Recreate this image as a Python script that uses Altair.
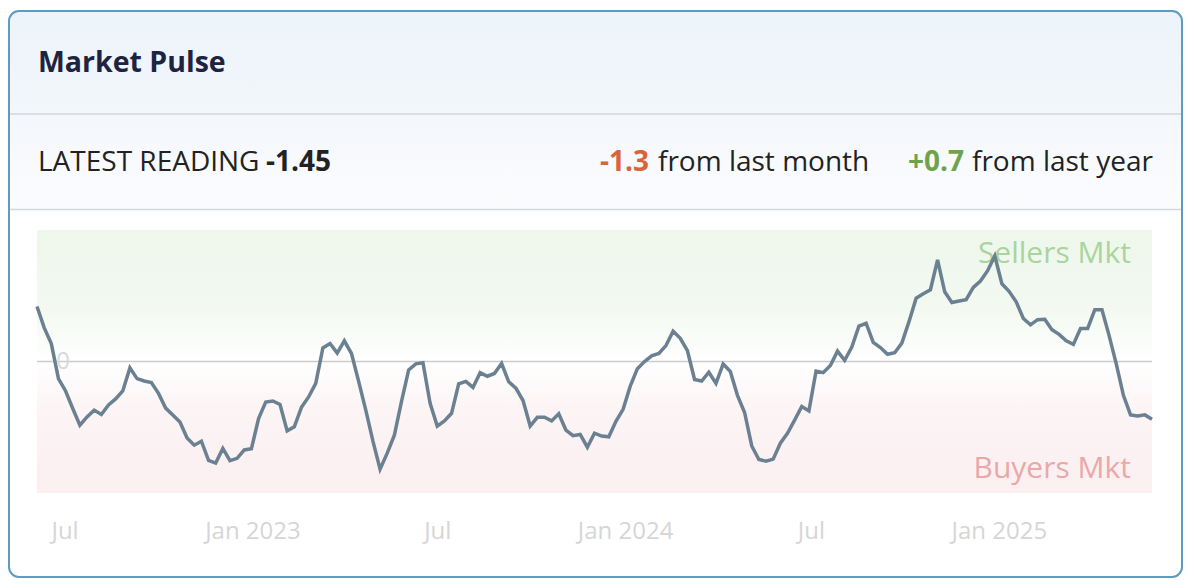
import altair as alt
import pandas as pd

# ---------------- text content ----------------
TITLE = "Market Pulse"
LATEST_LABEL = "LATEST READING"
LATEST_VALUE = "-1.45"
MONTH_CHANGE = "-1.3"
MONTH_TEXT = "from last month"
YEAR_CHANGE = "+0.7"
YEAR_TEXT = "from last year"

ZONE_LABELS = ["Sellers Mkt", "Buyers Mkt"]
ZONE_LEVELS = [2.7, -2.7]
ZONE_COLORS = ["#aad49e", "#eaa8a9"]
Y_DOMAIN = [-3.3, 3.3]
Y_TICKS = [0]
X_TICKS = ["2022-07-01", "2023-01-01", "2023-07-01", "2024-01-01", "2024-07-01", "2025-01-01"]

# weekly readings, Jun 2022 -> May 2025
pulse = [
    1.38, 0.85, 0.45, -0.43, -0.74, -1.18, -1.60, -1.39, -1.22, -1.33,
    -1.09, -0.94, -0.74, -0.16, -0.43, -0.49, -0.53, -0.80, -1.17, -1.34,
    -1.52, -1.92, -2.10, -2.00, -2.48, -2.55, -2.18, -2.49, -2.43, -2.22,
    -2.19, -1.43, -1.02, -0.99, -1.08, -1.74, -1.64, -1.15, -0.89, -0.55,
    0.34, 0.45, 0.21, 0.52, 0.20, -0.50, -1.22, -2.00, -2.70, -2.30,
    -1.85, -1.00, -0.21, -0.06, -0.03, -1.05, -1.62, -1.49, -1.30, -0.56,
    -0.50, -0.65, -0.28, -0.37, -0.30, -0.05, -0.51, -0.67, -0.98, -1.62,
    -1.40, -1.40, -1.49, -1.31, -1.72, -1.86, -1.83, -2.15, -1.80, -1.87,
    -1.89, -1.50, -1.20, -0.62, -0.18, 0.00, 0.14, 0.20, 0.40, 0.76,
    0.58, 0.27, -0.45, -0.49, -0.27, -0.55, -0.06, -0.25, -0.85, -1.28,
    -2.12, -2.46, -2.50, -2.45, -2.05, -1.80, -1.47, -1.13, -1.24, -0.24,
    -0.28, -0.10, 0.26, 0.03, 0.36, 0.89, 0.96, 0.48, 0.35, 0.18,
    0.22, 0.46, 1.00, 1.59, 1.70, 1.80, 2.55, 1.75, 1.48, 1.52,
    1.55, 1.86, 2.02, 2.28, 2.65, 1.95, 1.76, 1.50, 1.08, 0.92,
    1.05, 1.06, 0.80, 0.68, 0.52, 0.43, 0.83, 0.83, 1.30, 1.30,
    0.65, -0.06, -0.85, -1.34, -1.37, -1.34, -1.45,
]
dates = pd.date_range("2022-06-04", periods=len(pulse), freq="7D").strftime("%Y-%m-%d").tolist()

FONT = "Open Sans"
W, H = 1176, 568

line_df = pd.DataFrame({"date": dates, "pulse": pulse})
band_df = pd.DataFrame({"start": [dates[0]], "end": [dates[-1]],
                        "top": [Y_DOMAIN[1]], "bottom": [Y_DOMAIN[0]]})
zero_df = pd.DataFrame({"start": [dates[0]], "end": [dates[-1]], "y": Y_TICKS})
zone_df = pd.DataFrame({"date": [dates[-1]] * 2, "level": ZONE_LEVELS, "label": ZONE_LABELS})
one = pd.DataFrame({"k": [0]})

xscale = alt.Scale(type="utc", range=[29, 1144], nice=False)
yscale = alt.Scale(domain=Y_DOMAIN, range=[483, 220], nice=False, zero=False)

tick_values = []
for t in X_TICKS:
    yy, mm, dd = (int(p) for p in t.split("-"))
    tick_values.append(alt.DateTime(year=yy, month=mm, date=dd, utc=True))

x_axis = alt.Axis(
    values=tick_values,
    labelExpr="utcFormat(datum.value, utcmonth(datum.value) == 0 ? '%b %Y' : '%b')",
    domain=False, ticks=False, grid=False, title=None,
    labelFont=FONT, labelFontSize=24, labelColor="#d6d6d6",
    labelPadding=0, labelBaseline="middle", labelFlush=False, labelOverlap=False,
    offset=-47,
)

# ---------------- card decoration ----------------
header_bg = alt.Chart(one).mark_rect(
    color=alt.LinearGradient(gradient="linear", x1=0, x2=0, y1=0, y2=1,
                             stops=[alt.GradientStop(color="#ecf3fa", offset=0),
                                    alt.GradientStop(color="#f3f7fb", offset=1)]),
    cornerRadiusTopLeft=9, cornerRadiusTopRight=9,
).encode(x=alt.value(1), x2=alt.value(W - 2), y=alt.value(1), y2=alt.value(104))

stats_bg = alt.Chart(one).mark_rect(
    color=alt.LinearGradient(gradient="linear", x1=0, x2=0, y1=0, y2=1,
                             stops=[alt.GradientStop(color="#f4f7fb", offset=0),
                                    alt.GradientStop(color="#fbfcfe", offset=1)]),
).encode(x=alt.value(1), x2=alt.value(W - 2), y=alt.value(104), y2=alt.value(199))

divider1 = alt.Chart(one).mark_rule(color="#d3d6da", strokeWidth=1.5).encode(
    x=alt.value(1), x2=alt.value(W - 2), y=alt.value(104))
divider2 = alt.Chart(one).mark_rule(color="#d3d6da", strokeWidth=1.5).encode(
    x=alt.value(1), x2=alt.value(W - 2), y=alt.value(199.5))

def txt(s, x, y, size, color, weight="normal", align="left"):
    return alt.Chart(pd.DataFrame({"t": [s]})).mark_text(
        font=FONT, fontSize=size, fontWeight=weight, color=color,
        align=align, baseline="middle",
    ).encode(x=alt.value(x), y=alt.value(y), text="t:N")

title_t = txt(TITLE, 30, 53, 28.5, "#1f2342", "bold")
latest_l = txt(LATEST_LABEL, 30, 153, 28, "#222222")
latest_v = txt(LATEST_VALUE, 258, 153, 28, "#222222", "bold")
month_c = txt(MONTH_CHANGE, 592, 153, 28, "#d9643c", "bold")
month_t = txt(MONTH_TEXT, 650, 153, 28, "#222222")
year_c = txt(YEAR_CHANGE, 900, 153, 28, "#6ea34c", "bold")
year_t = txt(YEAR_TEXT, 964, 153, 28, "#222222")

# ---------------- plot ----------------
band = alt.Chart(band_df).mark_rect(
    color=alt.LinearGradient(gradient="linear", x1=0, x2=0, y1=0, y2=1,
                             stops=[alt.GradientStop(color="#eef7ec", offset=0),
                                    alt.GradientStop(color="#f3f9f1", offset=0.3),
                                    alt.GradientStop(color="#ffffff", offset=0.5),
                                    alt.GradientStop(color="#fcf4f5", offset=0.68),
                                    alt.GradientStop(color="#fbeff0", offset=1)]),
).encode(
    x=alt.X("start:T", scale=xscale, axis=x_axis),
    x2="end:T",
    y=alt.Y("top:Q", scale=yscale, axis=None),
    y2="bottom:Q",
)

zero_rule = alt.Chart(zero_df).mark_rule(color="#cccccc", strokeWidth=1.5).encode(
    x="start:T", x2="end:T", y="y:Q")

zero_lbl = alt.Chart(zero_df).mark_text(
    font=FONT, fontSize=24, color="#d9d9d9", align="center", baseline="middle", dx=26,
).encode(x="start:T", y="y:Q", text="y:Q")

zones = alt.Chart(zone_df).mark_text(
    font=FONT, fontSize=30, align="right", baseline="middle", dx=-21,
).encode(
    x="date:T", y="level:Q", text="label:N",
    color=alt.Color("label:N", scale=alt.Scale(domain=ZONE_LABELS, range=ZONE_COLORS), legend=None),
)

line = alt.Chart(line_df).mark_line(color="#6b8090", strokeWidth=3.5).encode(
    x="date:T", y="pulse:Q")

card = alt.Chart(one).mark_rect(
    filled=False, stroke="#5e9cbf", strokeWidth=2, cornerRadius=10,
).encode(x=alt.value(1), x2=alt.value(W - 2), y=alt.value(1), y2=alt.value(H - 1))

chart = alt.layer(
    header_bg, stats_bg, divider1, divider2,
    title_t, latest_l, latest_v, month_c, month_t, year_c, year_t,
    band, zero_rule, zero_lbl, zones, line, card,
).properties(
    width=W, height=H,
    autosize=alt.AutoSizeParams(type="none"),
    padding={"left": 0, "top": 2, "right": 0, "bottom": 0},
    background="white",
).configure_view(stroke=None)

chart.save("out.html", embed_options={"renderer": "svg", "actions": False})
